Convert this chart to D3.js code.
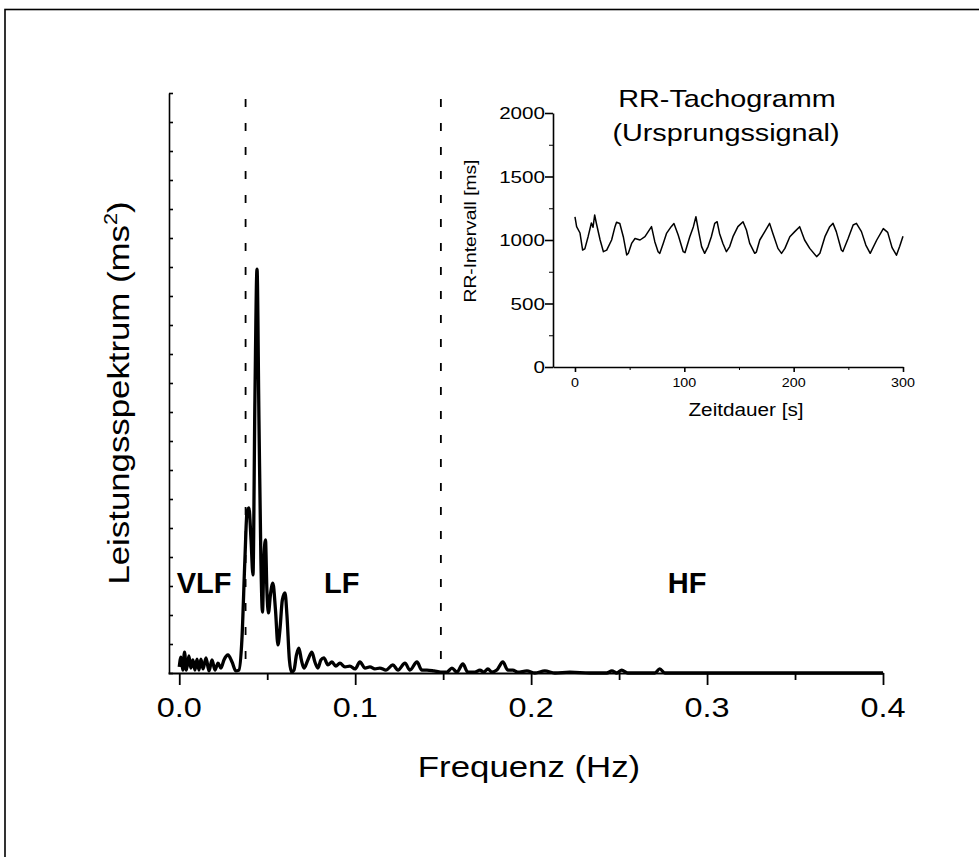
<!DOCTYPE html>
<html>
<head>
<meta charset="utf-8">
<script src="https://cdn.jsdelivr.net/npm/d3@7"></script>
<style>
  html, body { margin: 0; background: #fff; overflow: hidden; }
  svg { display: block; }
  svg text { font-family: "Liberation Sans", Arial, Helvetica, sans-serif; fill: #000; }
</style>
</head>
<body>
<div id="chart"></div>
<script>
// main spectrum (frequency in Hz, power in arbitrary units, 20 tick steps on the y axis)
var freq = [0.000, 0.001, 0.002, 0.003, 0.004, 0.0055, 0.0066, 0.0078, 0.0089, 0.0101,
  0.0112, 0.0123, 0.0135, 0.0152, 0.0169, 0.0186, 0.0203, 0.0220, 0.0237, 0.0254,
  0.0277, 0.0300, 0.0322, 0.0339, 0.0356, 0.0373, 0.0385, 0.0396, 0.0408, 0.0419,
  0.0430, 0.0442, 0.0453, 0.0464, 0.0473, 0.0481, 0.0490, 0.0498, 0.0507, 0.0518,
  0.0532, 0.0547, 0.0561, 0.0572, 0.0586, 0.0601, 0.0612, 0.0626, 0.0638, 0.0652,
  0.0666, 0.0680, 0.0694, 0.0709, 0.0731, 0.0754, 0.0771, 0.0788, 0.0805, 0.0822,
  0.0845, 0.0868, 0.0890, 0.0913, 0.0942, 0.0970, 0.0999, 0.1027, 0.1056, 0.1084,
  0.1112, 0.1140, 0.1175, 0.1214, 0.1243, 0.1283, 0.1311, 0.1351, 0.1379, 0.1408,
  0.1448, 0.1487, 0.1521, 0.1550, 0.1578, 0.1612, 0.1640, 0.1680, 0.1709, 0.1731,
  0.1754, 0.1777, 0.1805, 0.1839, 0.1868, 0.1896, 0.1924, 0.1976, 0.2021, 0.2078,
  0.2135, 0.2220, 0.2334, 0.2430, 0.2459, 0.2487, 0.2515, 0.2549, 0.2703, 0.2731,
  0.2760, 0.4000];
var power = [0.21, 0.55, 0.10, 0.72, 0.10, 0.59, 0.17, 0.45, 0.10, 0.48,
  0.10, 0.48, 0.14, 0.52, 0.07, 0.45, 0.10, 0.34, 0.17, 0.45,
  0.62, 0.38, 0.07, 0.10, 1.14, 3.90, 5.55, 5.69, 4.59, 3.38,
  9.41, 13.93, 8.72, 3.90, 2.10, 3.90, 4.59, 2.86, 2.07, 2.69,
  3.10, 2.17, 0.97, 1.48, 2.52, 2.76, 2.00, 0.45, 0.03, 0.10,
  0.62, 0.86, 0.45, 0.17, 0.45, 0.72, 0.38, 0.17, 0.45, 0.52,
  0.28, 0.38, 0.24, 0.34, 0.21, 0.24, 0.14, 0.38, 0.17, 0.21,
  0.14, 0.17, 0.10, 0.28, 0.10, 0.34, 0.10, 0.38, 0.10, 0.10,
  0.07, 0.03, 0.03, 0.17, 0.03, 0.31, 0.03, 0.03, 0.10, 0.03,
  0.14, 0.03, 0.10, 0.38, 0.10, 0.10, 0.03, 0.07, 0.00, 0.07,
  0.00, 0.03, 0.00, 0.00, 0.07, 0.00, 0.10, 0.00, 0.00, 0.14,
  0.00, 0.00];
var freqTicks = [0, 0.1, 0.2, 0.3, 0.4];
var freqMinor = [0.05, 0.15, 0.25, 0.35];
var bandLines = [0.0377, 0.1487];
var bandNames = ["VLF", "LF", "HF"];
var bandLabelPos = [0.0, 0.0838, 0.2792];

// inset RR tachogram
var rrTime = [0, 1.5, 4.6, 7, 9, 12, 15, 16.5, 18, 19.5, 23, 26, 29, 33.5, 36.6, 38, 41, 44.2,
  47.3, 48.8, 51.8, 54.9, 59.5, 64, 67, 70, 73, 76, 77.6, 80.7, 83.7, 88, 90.5, 94.4,
  99, 100.6, 105, 108.3, 110.6, 112.8, 115.8, 118.6, 121.7, 124.7, 127.8, 130, 132.2,
  135.3, 138.5, 141.5, 144.5, 149, 153.7, 156.8, 159.8, 164.4, 165.9, 169, 173.6, 178,
  181, 185.6, 188.9, 192, 196.5, 201, 205.5, 210, 214.7, 221, 224, 228.6, 233, 236,
  239, 243.6, 245, 249.8, 254.4, 257.4, 262, 266, 270, 276, 282, 286, 290, 294, 297, 300];
var rrValue = [1183, 1105, 1055, 921, 930, 1026, 1134, 1100, 1197, 1134, 1000, 908, 920, 1000,
  1105, 1140, 1130, 1026, 882, 895, 973, 1012, 1000, 1026, 1066, 1105, 987, 908, 895, 973,
  1052, 1105, 1130, 1039, 908, 900, 1026, 1105, 1183, 1079, 948, 895, 948, 1026, 1131, 1144,
  1052, 973, 908, 948, 1026, 1105, 1144, 1079, 973, 895, 905, 1000, 1066, 1131, 1052, 934,
  895, 934, 1026, 1066, 1105, 1000, 934, 869, 895, 1026, 1105, 1131, 1066, 921, 910, 1012,
  1118, 1131, 1066, 960, 895, 1000, 1090, 1060, 940, 880, 950, 1030];
var rrYTicks = [0, 500, 1000, 1500, 2000];
var rrYMinor = [250, 750, 1250, 1750];
var rrXTicks = [0, 100, 200, 300];
var rrXMinor = [50, 150, 250];

var W = 979, H = 857;
var svg = d3.select("#chart").append("svg").attr("width", W).attr("height", H);

// frame
svg.append("rect").attr("x", 5).attr("y", 9.5).attr("width", 1000).attr("height", 900)
  .attr("fill", "none").attr("stroke", "#000").attr("stroke-width", 1.6);

var x = d3.scaleLinear().domain([-0.0064, 0.4]).range([168, 883]);
var y = d3.scaleLinear().domain([0, 20]).range([673, 93]);

// y axis (no labels, small inward ticks)
var yAxis = d3.axisRight(y).ticks(20).tickSize(4).tickSizeOuter(0).tickFormat("");
svg.append("g").attr("transform", "translate(169,0)").call(yAxis)
  .call(function (g) { g.selectAll("path,line").attr("stroke", "#000").attr("stroke-width", 1.6); });

// band separators
svg.selectAll(".band").data(bandLines).enter().append("line")
  .attr("x1", function (d) { return x(d); }).attr("x2", function (d) { return x(d); })
  .attr("y1", 99).attr("y2", 673)
  .attr("stroke", "#000").attr("stroke-width", 1.8).attr("stroke-dasharray", "8,16");

// spectrum line
var line = d3.line().x(function (d, i) { return x(freq[i]); })
  .y(function (d) { return y(d); }).curve(d3.curveMonotoneX);
svg.append("path").datum(power).attr("d", line)
  .attr("fill", "none").attr("stroke", "#000").attr("stroke-width", 3.3)
  .attr("stroke-linejoin", "round");

// x axis
var xAxis = d3.axisBottom(x).tickValues(freqTicks).tickSize(12).tickSizeOuter(0)
  .tickFormat(d3.format(".1f"));
var gx = svg.append("g").attr("transform", "translate(0,673)").call(xAxis);
gx.selectAll("path,line").attr("stroke", "#000").attr("stroke-width", 1.8);
gx.selectAll("text").remove();
svg.append("g").attr("transform", "translate(0,673)")
  .call(d3.axisBottom(x).tickValues(freqMinor).tickSize(7).tickFormat(""))
  .call(function (g) { g.select(".domain").remove(); g.selectAll("line").attr("stroke", "#000").attr("stroke-width", 1.8); });

svg.selectAll(".xl").data(freqTicks).enter().append("text")
  .attr("transform", function (d) { return "translate(" + x(d) + ",717) scale(1.2,1)"; })
  .attr("text-anchor", "middle").style("font-size", "27px")
  .text(d3.format(".1f"));

svg.append("text").attr("transform", "translate(529,777) scale(1.2,1)")
  .attr("text-anchor", "middle").style("font-size", "29px").text("Frequenz (Hz)");

var yl = svg.append("text").attr("transform", "translate(129,393) rotate(-90) scale(1.2,1)")
  .attr("text-anchor", "middle").style("font-size", "29px");
yl.append("tspan").text("Leistungsspektrum (ms");
yl.append("tspan").attr("dy", -12).style("font-size", "18px").text("2");
yl.append("tspan").attr("dy", 12).text(")");

// band names
svg.selectAll(".bn").data(bandNames).enter().append("text")
  .attr("x", function (d, i) { return x(bandLabelPos[i]) - 2.6; }).attr("y", 593)
  .style("font-size", "29px").style("font-weight", "bold")
  .text(function (d) { return d; });

// inset
var ix = d3.scaleLinear().domain([-20.1, 300]).range([553, 903]);
var iy = d3.scaleLinear().domain([0, 2000]).range([367, 113]);

var gy2 = svg.append("g").attr("transform", "translate(553,0)")
  .call(d3.axisLeft(iy).tickValues(rrYTicks).tickSize(8).tickSizeOuter(0).tickFormat(""));
svg.append("g").attr("transform", "translate(553,0)")
  .call(d3.axisLeft(iy).tickValues(rrYMinor).tickSize(4).tickFormat(""))
  .call(function (g) { g.select(".domain").remove(); });
var gx2 = svg.append("g").attr("transform", "translate(0,367)")
  .call(d3.axisBottom(ix).tickValues(rrXTicks).tickSize(5).tickSizeOuter(0).tickFormat(""));
svg.append("g").attr("transform", "translate(0,367)")
  .call(d3.axisBottom(ix).tickValues(rrXMinor).tickSize(3).tickFormat(""))
  .call(function (g) { g.select(".domain").remove(); });
svg.selectAll(".domain, .tick line").attr("stroke", "#000");
gy2.selectAll("path,line").attr("stroke-width", 1.6);
gx2.selectAll("path,line").attr("stroke-width", 1.6);

svg.selectAll(".iyl").data(rrYTicks).enter().append("text")
  .attr("transform", function (d) { return "translate(545," + (iy(d) + 6) + ") scale(1.25,1)"; })
  .attr("text-anchor", "end").style("font-size", "16.5px").text(function (d) { return d; });
svg.selectAll(".ixl").data(rrXTicks).enter().append("text")
  .attr("transform", function (d) { return "translate(" + ix(d) + ",387) scale(1.1,1)"; })
  .attr("text-anchor", "middle").style("font-size", "13px").text(function (d) { return d; });

var rrLine = d3.line().x(function (d, i) { return ix(rrTime[i]); }).y(function (d) { return iy(d); });
svg.append("path").datum(rrValue).attr("d", rrLine)
  .attr("fill", "none").attr("stroke", "#000").attr("stroke-width", 1.5)
  .attr("stroke-linejoin", "round");

svg.append("text").attr("transform", "translate(746,416) scale(1.12,1)")
  .attr("text-anchor", "middle").style("font-size", "18.5px").text("Zeitdauer [s]");
svg.append("text").attr("transform", "translate(476,231) rotate(-90) scale(1.2,1)")
  .attr("text-anchor", "middle").style("font-size", "16px").text("RR-Intervall [ms]");
svg.append("text").attr("transform", "translate(727,107) scale(1.2,1)")
  .attr("text-anchor", "middle").style("font-size", "24px").text("RR-Tachogramm");
svg.append("text").attr("transform", "translate(726,141) scale(1.2,1)")
  .attr("text-anchor", "middle").style("font-size", "24px").text("(Ursprungssignal)");
</script>
</body>
</html>
